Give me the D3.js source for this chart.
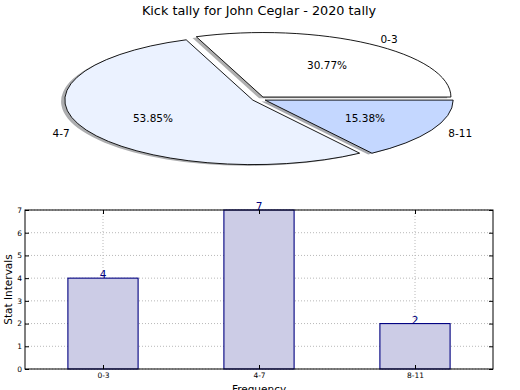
<!DOCTYPE html>
<html>
<head>
<meta charset="utf-8">
<script src="https://cdn.jsdelivr.net/npm/d3@7"></script>
<style>
  body { margin: 0; background: #fff; }
  svg { display: block; font-family: "DejaVu Sans", sans-serif; }
</style>
</head>
<body>
<div id="chart"></div>
<script>
// data
const categories = ["0-3", "4-7", "8-11"];
const counts = [4, 7, 2];
const yTicks = [0, 1, 2, 3, 4, 5, 6, 7];
const sliceColors = ["#ffffff", "#ebf2ff", "#c4d7ff"];

const width = 520, height = 390;
const svg = d3.select("#chart").append("svg")
  .attr("width", width)
  .attr("height", height);

svg.append("text")
  .attr("x", 259).attr("y", 15)
  .attr("text-anchor", "middle")
  .style("font-size", "12.8px")
  .text("Kick tally for John Ceglar - 2020 tally");

// ---- pie (elliptical, exploded, with shadow) ----
const cx = 259, cy = 99, rx = 188, ry = 64.5;
const explode = 0.037;
const total = d3.sum(counts);

// matplotlib style: start at 3 o'clock, counter-clockwise
const pie = d3.pie().sort(null)
  .startAngle(Math.PI / 2)
  .endAngle(Math.PI / 2 - 2 * Math.PI);
const arcs = pie(counts);
const arc = d3.arc().innerRadius(0).outerRadius(100);

const pieG = svg.append("g");

arcs.forEach(d => {
  const theta = Math.PI / 2 - (d.startAngle + d.endAngle) / 2;
  d.theta = theta;
  d.ox = cx + explode * rx * Math.cos(theta);
  d.oy = cy - explode * ry * Math.sin(theta);
});

// shadows first
arcs.forEach((d, i) => {
  const c = d3.rgb(sliceColors[i]);
  pieG.append("path")
    .attr("d", arc(d))
    .attr("transform", `translate(${d.ox - 0.02 * rx},${d.oy + 0.02 * ry}) scale(${rx / 100},${ry / 100})`)
    .attr("fill", d3.rgb(c.r * 0.3, c.g * 0.3, c.b * 0.3))
    .attr("fill-opacity", 0.45);
});

arcs.forEach((d, i) => {
  pieG.append("path")
    .attr("d", arc(d))
    .attr("transform", `translate(${d.ox},${d.oy}) scale(${rx / 100},${ry / 100})`)
    .attr("fill", sliceColors[i])
    .attr("stroke", "#000")
    .attr("stroke-width", 0.9)
    .attr("vector-effect", "non-scaling-stroke");
});

arcs.forEach((d, i) => {
  const c = Math.cos(d.theta), s = Math.sin(d.theta);
  pieG.append("text")
    .attr("x", d.ox + 1.1 * rx * c)
    .attr("y", d.oy - 1.1 * ry * s)
    .attr("text-anchor", c > 0 ? "start" : "end")
    .attr("dominant-baseline", "central")
    .style("font-size", "10.5px")
    .text(categories[i]);
  pieG.append("text")
    .attr("x", d.ox + 0.6 * rx * c)
    .attr("y", d.oy - 0.6 * ry * s)
    .attr("text-anchor", "middle")
    .attr("dominant-baseline", "central")
    .style("font-size", "10.5px")
    .text((counts[i] / total * 100).toFixed(2) + "%");
});

// ---- bar chart ----
const pLeft = 25, pRight = 493, pTop = 210, pBottom = 369;
const x = d3.scaleLinear().domain([-0.5, 2.5]).range([pLeft, pRight]);
const y = d3.scaleLinear().domain([0, 7]).range([pBottom, pTop]);
const barW = 0.45;

const g = svg.append("g");

// grid
g.selectAll(".ygrid").data(yTicks).join("line")
  .attr("x1", pLeft).attr("x2", pRight)
  .attr("y1", d => y(d)).attr("y2", d => y(d))
  .attr("stroke", "#b8b8b8").attr("stroke-width", 1)
  .attr("stroke-dasharray", "1,2");
g.selectAll(".xgrid").data(categories).join("line")
  .attr("x1", (d, i) => x(i)).attr("x2", (d, i) => x(i))
  .attr("y1", pTop).attr("y2", pBottom)
  .attr("stroke", "#b8b8b8").attr("stroke-width", 1)
  .attr("stroke-dasharray", "1,2");

// bars
g.selectAll(".bar").data(counts).join("rect")
  .attr("x", (d, i) => x(i - barW / 2))
  .attr("width", x(barW) - x(0))
  .attr("y", d => y(d))
  .attr("height", d => y(0) - y(d))
  .attr("fill", "#cccce6")
  .attr("stroke", "#000080")
  .attr("stroke-width", 1.1);

g.selectAll(".val").data(counts).join("text")
  .attr("x", (d, i) => x(i))
  .attr("y", d => y(d))
  .attr("text-anchor", "middle")
  .attr("fill", "#000080")
  .style("font-size", "10.5px")
  .text(d => d);

// frame
g.append("rect")
  .attr("x", pLeft).attr("y", pTop)
  .attr("width", pRight - pLeft).attr("height", pBottom - pTop)
  .attr("fill", "none").attr("stroke", "#000").attr("stroke-width", 1);

// axes with inward ticks on all sides
const yAxisL = d3.axisLeft(y).tickValues(yTicks).tickFormat(d3.format("d"))
  .tickSizeInner(-4).tickSizeOuter(0).tickPadding(3);
const yAxisR = d3.axisRight(y).tickValues(yTicks).tickSizeInner(-4).tickSizeOuter(0).tickFormat("");
const xAxisB = d3.axisBottom(x).tickValues([0, 1, 2]).tickSizeInner(-4).tickSizeOuter(0).tickPadding(4)
  .tickFormat(i => categories[i]);
const xAxisT = d3.axisTop(x).tickValues([0, 1, 2]).tickSizeInner(-4).tickSizeOuter(0).tickFormat("");

function styleAxis(sel) {
  sel.select(".domain").remove();
  sel.selectAll("text").style("font-size", "7.5px").attr("fill", "#000")
    .style("font-family", "DejaVu Sans, sans-serif");
  sel.selectAll("line").attr("stroke", "#000");
}
g.append("g").attr("transform", `translate(${pLeft},0)`).call(yAxisL).call(styleAxis);
g.append("g").attr("transform", `translate(${pRight},0)`).call(yAxisR).call(styleAxis);
g.append("g").attr("transform", `translate(0,${pBottom})`).call(xAxisB).call(styleAxis);
g.append("g").attr("transform", `translate(0,${pTop})`).call(xAxisT).call(styleAxis);

svg.append("text")
  .attr("transform", `translate(12,${(pTop + pBottom) / 2}) rotate(-90)`)
  .attr("text-anchor", "middle")
  .style("font-size", "10.5px")
  .text("Stat Intervals");

// x label sits at the very bottom edge, clipped as in the reference
svg.append("text")
  .attr("x", x(1)).attr("y", 393)
  .attr("text-anchor", "middle")
  .style("font-size", "10.5px")
  .text("Frequency");
</script>
</body>
</html>
